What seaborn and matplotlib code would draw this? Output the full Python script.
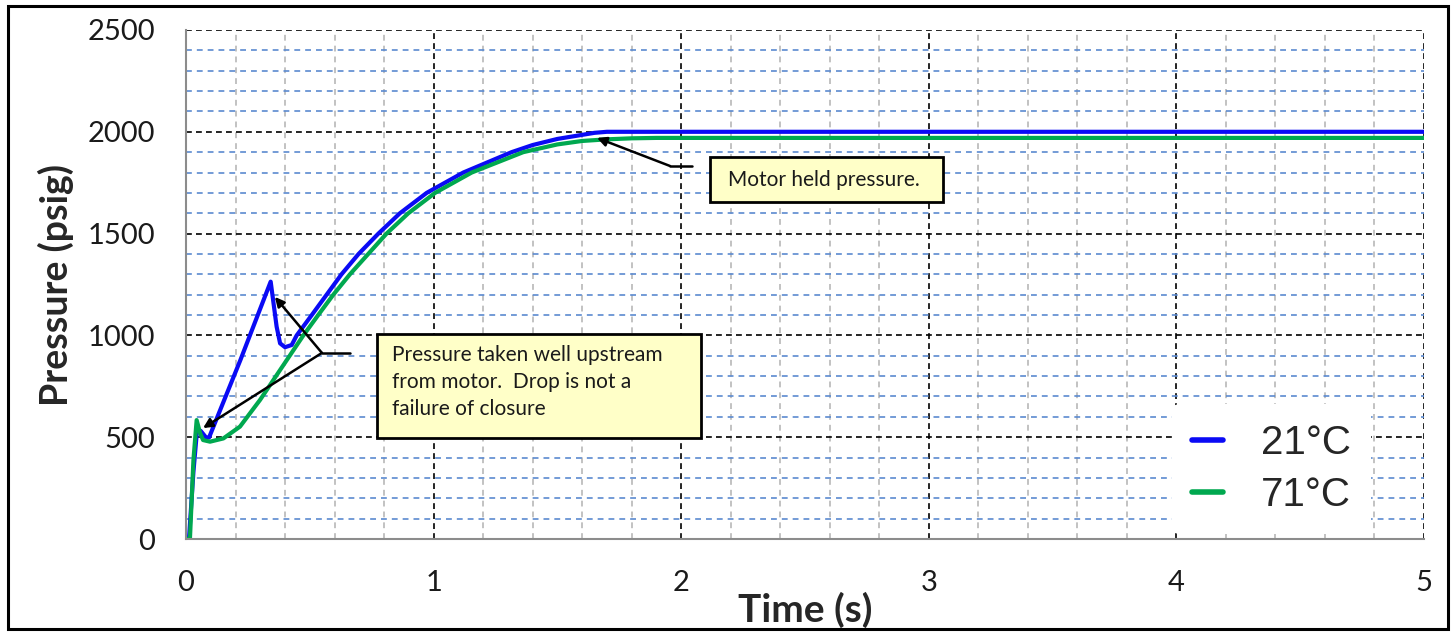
import numpy as np
import pandas as pd
import matplotlib
matplotlib.use("Agg")
from matplotlib import pyplot as plt
from matplotlib.patches import Rectangle
from matplotlib.ticker import MultipleLocator
import seaborn as sns

# 21 C run (blue)
t_21 = [0.0, 0.012, 0.03, 0.045, 0.06, 0.08, 0.093, 0.22, 0.342, 0.366, 0.38, 0.40,
        0.427, 0.447, 0.508, 0.568, 0.628, 0.697, 0.777, 0.864, 0.972, 1.12, 1.315,
        1.4, 1.5, 1.6, 1.65, 1.7, 2.5, 3.0, 4.0, 5.0]
p_21 = [0, 0, 330, 540, 530, 500, 498, 880, 1264, 1043, 961, 942,
        953, 1000, 1100, 1200, 1300, 1400, 1500, 1600, 1700, 1800, 1900,
        1935, 1965, 1985, 1995, 2000, 2000, 2000, 2000, 2000]

# 71 C run (green)
t_71 = [0.0, 0.016, 0.03, 0.043, 0.057, 0.069, 0.097, 0.151, 0.218, 0.299, 0.38,
        0.474, 0.534, 0.595, 0.662, 0.736, 0.81, 0.898, 1.006, 1.154, 1.362,
        1.5, 1.6, 1.7, 1.8, 1.9, 2.5, 3.0, 4.0, 5.0]
p_71 = [0, 3, 388, 584, 520, 486, 478, 494, 552, 683, 830,
        1000, 1100, 1200, 1300, 1400, 1500, 1600, 1700, 1800, 1900,
        1938, 1955, 1963, 1968, 1970, 1970, 1970, 1970, 1970]

series_names = ["21\u00b0C", "71\u00b0C"]
series_colors = ["#0a0af5", "#00a84f"]

x_ticks = [0, 1, 2, 3, 4, 5]
y_ticks = [0, 500, 1000, 1500, 2000, 2500]

note_motor = "Motor held pressure."
note_drop = "Pressure taken well upstream\nfrom motor.  Drop is not a\nfailure of closure"

df = pd.concat([
    pd.DataFrame({"time": t_21, "pressure": p_21, "series": series_names[0]}),
    pd.DataFrame({"time": t_71, "pressure": p_71, "series": series_names[1]}),
], ignore_index=True)

sns.set_style("white")
plt.rcParams["font.family"] = ["Lato", "DejaVu Sans"]

fig = plt.figure(figsize=(14.54, 6.35), dpi=100)
ax = fig.add_axes([186 / 1454, 1 - 539 / 635, 1238 / 1454, 509 / 635])

sns.lineplot(data=df, x="time", y="pressure", hue="series", palette=series_colors,
             estimator=None, sort=False, linewidth=3.0, ax=ax, zorder=3)

ax.set_xlim(0, 5)
ax.set_ylim(0, 2500)
ax.set_xticks(x_ticks)
ax.set_yticks(y_ticks)
ax.xaxis.set_minor_locator(MultipleLocator(0.2))
ax.yaxis.set_minor_locator(MultipleLocator(100))

ax.set_axisbelow(True)
ax.grid(True, which="major", axis="both", color="black", linestyle=(0, (3.5, 2.5)), linewidth=1.2)
ax.yaxis.grid(True, which="minor", color="#5b8ad0", linestyle=(0, (3.5, 3)), linewidth=1.2)
ax.xaxis.grid(True, which="minor", color="#b8b8b8", linestyle=(0, (3.5, 3)), linewidth=1.2)

for side in ["top", "right"]:
    ax.spines[side].set_visible(False)
for side in ["left", "bottom"]:
    ax.spines[side].set_color("#8c8c8c")
    ax.spines[side].set_linewidth(1.5)
    ax.spines[side].set_zorder(4)

ax.tick_params(axis="both", which="major", direction="out", length=8, width=1.3,
               color="#8c8c8c", labelsize=21, labelcolor="#1a1a1a", pad=14)
ax.tick_params(axis="x", which="minor", direction="in", length=5, width=1.3, color="#bdbdbd")
ax.tick_params(axis="y", which="minor", length=0)

ax.set_xlabel("Time (s)", fontsize=28, fontweight="bold", labelpad=-3)
ax.set_ylabel("Pressure (psig)", fontsize=27, fontweight="bold", labelpad=10)

# legend
handles, labels = ax.get_legend_handles_labels()
leg = ax.legend(handles, labels, loc="center", bbox_to_anchor=(0.877, 0.1375),
                prop={"family": ["Liberation Sans", "DejaVu Sans"], "size": 29},
                handlelength=0.75, handletextpad=0.95, labelspacing=0.35,
                frameon=True, facecolor="white", edgecolor="none", framealpha=1,
                borderpad=0.5)
for line in leg.get_lines():
    line.set_linewidth(4)

# annotation: motor held pressure
ax.add_patch(Rectangle((2.116, 1655), 3.057 - 2.116, 1876 - 1655, facecolor="#ffffc8",
                       edgecolor="black", linewidth=2, zorder=5))
ax.text(2.189, 1765, note_motor, fontsize=15, va="center", ha="left", color="#1a1a1a", zorder=6)
ax.plot([2.044, 1.955], [1832, 1832], color="black", lw=1.8, zorder=5)
ax.annotate("", xy=(1.660, 1970), xytext=(1.955, 1832),
            arrowprops=dict(arrowstyle="-|>", color="black", lw=1.8, mutation_scale=14,
                            shrinkA=0, shrinkB=0), zorder=5)

# annotation: pressure drop
ax.add_patch(Rectangle((0.771, 496), 2.080 - 0.771, 1007 - 496, facecolor="#ffffc8",
                       edgecolor="black", linewidth=2, zorder=5))
ax.text(0.832, 955, note_drop, fontsize=15, va="top", ha="left", color="#1a1a1a",
        linespacing=1.45, zorder=6)
ax.plot([0.662, 0.549], [914, 914], color="black", lw=1.8, zorder=5)
for tip in [(0.359, 1189), (0.069, 545)]:
    ax.annotate("", xy=tip, xytext=(0.549, 914),
                arrowprops=dict(arrowstyle="-|>", color="black", lw=1.8, mutation_scale=14,
                                shrinkA=0, shrinkB=0), zorder=5)

# outer frame
fig.patches.append(Rectangle((8 / 1454, 1 - 629 / 635), 1440 / 1454, 623 / 635,
                             transform=fig.transFigure, fill=False, edgecolor="black",
                             linewidth=2.2))

fig.savefig("out.png", dpi=100)
